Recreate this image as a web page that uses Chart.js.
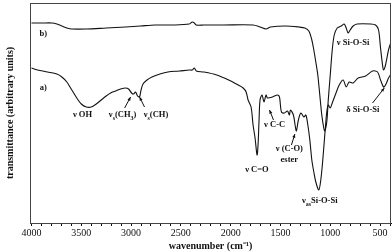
<!DOCTYPE html>
<html>
<head>
<meta charset="utf-8">
<script src="https://cdn.jsdelivr.net/npm/chart.js@4.4.1/dist/chart.umd.min.js"></script>
<style>
  html, body { margin: 0; padding: 0; background: #fff; }
  #wrap { width: 392px; height: 252px; position: relative; }
</style>
</head>
<body>
<div id="wrap"><canvas id="chart"></canvas></div>
<script>
// ── FTIR spectra (wavenumber cm-1 / transmittance, arbitrary units) ──
const WAVE_A = [4000, 3940, 3840, 3745, 3695, 3645, 3595, 3545, 3500, 3450, 3400, 3350, 3300, 3250, 3205, 3155, 3105, 3055, 3025, 2995, 2975, 2955, 2935, 2915, 2900, 2880, 2840, 2790, 2710, 2630, 2515, 2415, 2385, 2365, 2345, 2270, 2140, 2020, 1925, 1875, 1845, 1825, 1795, 1775, 1755, 1735, 1725, 1715, 1705, 1685, 1665, 1645, 1630, 1580, 1530, 1510, 1490, 1460, 1430, 1410, 1400, 1370, 1350, 1340, 1320, 1295, 1265, 1245, 1225, 1205, 1185, 1165, 1145, 1115, 1095, 1075, 1055, 1035, 1020, 1000, 980, 950, 910, 870, 840, 810, 770, 720, 645, 575, 525, 495, 465, 445, 415, 390];
const TRANS_A = [155, 153, 151, 149, 146, 141, 133, 125, 119, 116, 116, 119, 123, 127, 130, 132, 134, 135, 134, 130, 129, 131, 127, 126, 133, 139, 143, 146, 149, 151, 152, 153, 153, 155, 152, 151, 148, 143, 138, 135, 131, 123, 116, 98, 85, 68, 78, 103, 123, 128, 121, 128, 125, 126, 128, 126, 111, 110, 112, 108, 113, 108, 96, 92, 103, 110, 106, 108, 98, 83, 63, 51, 41, 33, 43, 63, 88, 111, 118, 115, 120, 128, 138, 143, 136, 141, 140, 145, 147, 152, 151, 143, 136, 138, 145, 149];

const WAVE_B = [4000, 3890, 3795, 3745, 3695, 3645, 3595, 3450, 3250, 3055, 2905, 2760, 2565, 2415, 2385, 2365, 2345, 2270, 2070, 1775, 1705, 1645, 1600, 1450, 1315, 1255, 1215, 1185, 1165, 1145, 1125, 1105, 1085, 1065, 1055, 1035, 1020, 1000, 980, 960, 930, 890, 860, 840, 820, 800, 770, 730, 595, 545, 515, 495, 475, 465, 445, 415, 390];
const TRANS_B = [200, 200, 200, 199, 197, 195, 194, 194, 195, 196, 197, 198, 198, 199, 201, 200, 198, 198, 198, 198, 196, 194, 196, 197, 196, 195, 192, 183, 173, 161, 148, 128, 108, 95, 92, 101, 123, 148, 173, 188, 195, 197, 199, 195, 190, 193, 197, 199, 199, 198, 193, 175, 158, 153, 158, 173, 181];

const X_MAJOR = [4000, 3500, 3000, 2500, 2000, 1500, 1000, 500];

// band labels: [wavenumber, transmittance, text parts ([text, isSubscript])]
const BAND_LABELS = [
  [3882, 189, [['b)', 0]]],
  [3882, 135, [['a)', 0]]],
  [3488, 108, [['ν OH', 0]]],
  [3085, 108, [['ν', 0], ['s', 1], ['(CH', 0], ['3', 1], [')', 0]]],
  [2750, 108, [['ν', 0], ['s', 1], ['(CH)', 0]]],
  [1736, 53, [['ν C=O', 0]]],
  [1559, 98, [['ν C-C', 0]]],
  [1411, 74, [['ν (C-O)', 0]]],
  [1411, 63, [['ester', 0]]],
  [1106, 22, [['ν', 0], ['as', 1], ['Si-O-Si', 0]]],
  [771, 180, [['ν Si-O-Si', 0]]],
  [673, 113, [['δ Si-O-Si', 0]]],
];

// arrows: [fromWave, fromTrans, toWave, toTrans]
const BAND_ARROWS = [
  [3065, 115, 3005, 126],
  [2865, 116, 2915, 126],
  [1570, 103, 1610, 113],
  [1390, 78, 1355, 89],
  [575, 120, 457, 135],
];

function drawParts(ctx, parts, cx, cy) {
  const big = 'bold 8.5px "Liberation Serif", "Times New Roman", serif';
  const small = 'bold 6px "Liberation Serif", "Times New Roman", serif';
  let total = 0;
  parts.forEach(([t, sub]) => { ctx.font = sub ? small : big; total += ctx.measureText(t).width; });
  let x = cx - total / 2;
  ctx.textBaseline = 'middle';
  ctx.textAlign = 'left';
  parts.forEach(([t, sub]) => {
    ctx.font = sub ? small : big;
    ctx.fillText(t, x, sub ? cy + 3 : cy);
    x += ctx.measureText(t).width;
  });
}

const annotate = {
  id: 'annotate',
  afterDatasetsDraw(chart) {
    const { ctx, chartArea: a, scales: { x, y } } = chart;
    ctx.save();
    // frame round the plot
    ctx.strokeStyle = '#444';
    ctx.lineWidth = 1;
    ctx.strokeRect(a.left + 0.5, a.top + 0.5, a.right - a.left - 1, a.bottom - a.top);
    ctx.fillStyle = '#111';
    BAND_LABELS.forEach(([w, v, parts]) => drawParts(ctx, parts, x.getPixelForValue(w), y.getPixelForValue(v)));
    ctx.strokeStyle = '#111';
    BAND_ARROWS.forEach(([w1, v1, w2, v2]) => {
      const x1 = x.getPixelForValue(w1), y1 = y.getPixelForValue(v1);
      const x2 = x.getPixelForValue(w2), y2 = y.getPixelForValue(v2);
      const ang = Math.atan2(y2 - y1, x2 - x1);
      ctx.beginPath(); ctx.moveTo(x1, y1); ctx.lineTo(x2, y2); ctx.stroke();
      ctx.beginPath();
      ctx.moveTo(x2, y2);
      ctx.lineTo(x2 - 4 * Math.cos(ang - 0.4), y2 - 4 * Math.sin(ang - 0.4));
      ctx.lineTo(x2 - 4 * Math.cos(ang + 0.4), y2 - 4 * Math.sin(ang + 0.4));
      ctx.closePath(); ctx.fill();
    });
    ctx.restore();
  },
};

const toPoints = (ws, vs) => ws.map((w, i) => ({ x: w, y: vs[i] }));

new Chart(document.getElementById('chart'), {
  type: 'scatter',
  data: {
    datasets: [
      { label: 'a)', data: toPoints(WAVE_A, TRANS_A), showLine: true, borderColor: '#111', borderWidth: 1.1, pointRadius: 0, tension: 0.3 },
      { label: 'b)', data: toPoints(WAVE_B, TRANS_B), showLine: true, borderColor: '#111', borderWidth: 1.1, pointRadius: 0, tension: 0.3 },
    ],
  },
  options: {
    responsive: true, maintainAspectRatio: false, animation: false,
    layout: { padding: { left: 4, right: 1, top: 3, bottom: 0 } },
    plugins: { legend: { display: false }, tooltip: { enabled: false } },
    scales: {
      x: {
        type: 'linear', reverse: true, min: 390, max: 4015,
        afterBuildTicks: scale => {
          const t = [];
          for (let v = 4000; v >= 400; v -= 100) t.push({ value: v });
          scale.ticks = t;
        },
        ticks: {
          autoSkip: false, maxRotation: 0, padding: 1, color: '#111',
          font: { family: '"Liberation Serif", serif', size: 10 },
          callback: v => (X_MAJOR.includes(v) ? String(v) : ''),
        },
        grid: { drawOnChartArea: false, tickLength: 3, tickColor: '#111' },
        border: { color: '#111' },
        title: {
          display: true, text: 'wavenumber (cm⁻¹)', color: '#111', padding: { top: 0, bottom: 0 },
          font: { family: '"Liberation Serif", serif', size: 10, weight: 'bold' },
        },
      },
      y: {
        min: 0, max: 220,
        ticks: { display: false },
        grid: { display: false },
        border: { color: '#111' },
        title: {
          display: true, text: 'transmittance (arbitrary units)', color: '#111', padding: { top: 0, bottom: 6 },
          font: { family: '"Liberation Serif", serif', size: 10, weight: 'bold' },
        },
      },
    },
  },
  plugins: [annotate],
});
</script>
</body>
</html>
